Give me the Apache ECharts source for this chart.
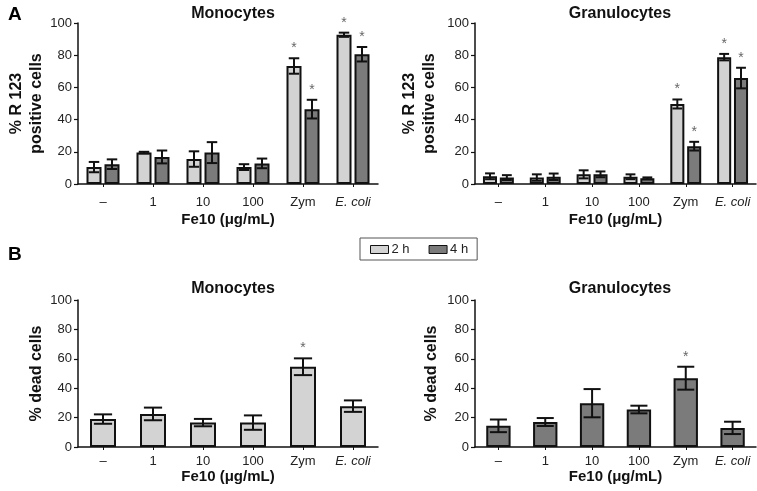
<!DOCTYPE html>
<html><head><meta charset="utf-8">
<script src="https://cdn.jsdelivr.net/npm/echarts@6/dist/echarts.min.js"></script>
<style>html,body{margin:0;padding:0;background:#fff}#c{width:757px;height:491px}</style>
</head><body><div id="c"></div>
<script>
const categories = ['–', '1', '10', '100', 'Zym', 'E. coli'];
const yTicks = [0, 20, 40, 60, 80, 100];

// Panel A: % R 123 positive cells
const mono2h = [10.5, 19.5, 15.5, 10.5, 73.3, 92.7];
const mono2hErr = [3.2, 0.5, 4.8, 1.8, 4.8, 1.3];
const mono2hStar = [0, 0, 0, 0, 1, 1];
const mono4h = [12.3, 16.8, 19.5, 12.8, 46.5, 80.6];
const mono4hErr = [3.0, 4.0, 6.5, 3.0, 5.8, 4.5];
const mono4hStar = [0, 0, 0, 0, 1, 1];

const gran2h = [4.8, 4.0, 6.0, 4.5, 49.7, 78.8];
const gran2hErr = [1.8, 2.0, 2.5, 1.5, 2.8, 2.0];
const gran2hStar = [0, 0, 0, 0, 1, 1];
const gran4h = [4.0, 4.5, 6.0, 3.5, 23.5, 65.8];
const gran4hErr = [1.5, 2.0, 1.8, 0.6, 2.7, 6.4];
const gran4hStar = [0, 0, 0, 0, 1, 1];

// Panel B: % dead cells
const monoDead = [19.0, 22.5, 16.6, 16.6, 54.6, 27.8];
const monoDeadErr = [3.2, 4.3, 2.5, 4.9, 5.7, 3.9];
const monoDeadStar = [0, 0, 0, 0, 1, 0];
const granDead = [14.4, 17.0, 29.8, 25.5, 46.8, 13.0];
const granDeadErr = [4.3, 2.7, 9.6, 2.6, 7.8, 4.2];
const granDeadStar = [0, 0, 0, 0, 1, 0];

const LIGHT = '#d3d3d3', DARK = '#7b7b7b';
const FONT = '"Liberation Sans", Arial, sans-serif';

const chart = echarts.init(document.getElementById('c'), null, {renderer: 'canvas'});

const grids = [
  {left: 78, top: 23, width: 300, height: 161},
  {left: 475, top: 23, width: 281, height: 161},
  {left: 78, top: 300, width: 300, height: 147},
  {left: 475, top: 300, width: 281, height: 147}
];

function xAxis(gi, labelMargin, nameGap) {
  return {
    type: 'category', gridIndex: gi, data: categories,
    axisLine: {lineStyle: {color: '#111', width: 1.5}},
    axisTick: {show: true, alignWithLabel: true, length: 3, lineStyle: {color: '#111'}},
    axisLabel: {
      color: '#222', fontSize: 13, fontFamily: FONT, margin: labelMargin, interval: 0,
      formatter: v => v === 'E. coli' ? '{i|E. coli}' : v,
      rich: {i: {fontStyle: 'italic', fontSize: 13, fontFamily: FONT, color: '#222'}}
    },
    name: 'Fe10 (μg/mL)', nameLocation: 'middle', nameGap: nameGap,
    nameTextStyle: {fontWeight: 'bold', fontSize: 15, fontFamily: FONT, color: '#111'}
  };
}
function yAxis(gi, name, nameGap) {
  return {
    type: 'value', gridIndex: gi, min: 0, max: 100, interval: 20,
    axisLine: {show: true, lineStyle: {color: '#111', width: 1.5}},
    axisTick: {show: true, length: 4, lineStyle: {color: '#111', width: 1.2}},
    splitLine: {show: false},
    axisLabel: {color: '#222', fontSize: 13, fontFamily: FONT, margin: 6},
    name: name, nameLocation: 'middle', nameGap: nameGap, nameRotate: 90,
    nameTextStyle: {fontWeight: 'bold', fontSize: 16, fontFamily: FONT, color: '#111', lineHeight: 20, align: 'center'}
  };
}

function barSeries(name, gi, vals, color, catGap, gap) {
  return {
    type: 'bar', name: name, xAxisIndex: gi, yAxisIndex: gi, data: vals,
    barCategoryGap: catGap, barGap: gap,
    itemStyle: {color: color, borderColor: '#111', borderWidth: 2},
    silent: true, animation: false
  };
}

// error bars + stars; idx = position in group, n = bars per group
function errSeries(gi, vals, errs, stars, idx, n, catGap, gap) {
  const data = vals.map((v, i) => [i, v, errs[i], stars[i]]);
  return {
    type: 'custom', xAxisIndex: gi, yAxisIndex: gi, data: data, silent: true, animation: false,
    encode: {x: 0, y: 1}, z: 10,
    renderItem: function (params, api) {
      const band = api.size([1, 0])[0];
      const w = band * (1 - catGap) / (n + (n - 1) * gap);
      const total = n * w + (n - 1) * gap * w;
      const off = -total / 2 + w / 2 + idx * (w + gap * w);
      const ci = api.value(0), v = api.value(1), e = api.value(2), s = api.value(3);
      const top = api.coord([ci, v + e]);
      const bot = api.coord([ci, v - e]);
      const x = top[0] + off;
      const cap = w * 0.35;
      const st = {stroke: '#111', lineWidth: 2};
      const children = [
        {type: 'line', shape: {x1: x, y1: top[1], x2: x, y2: bot[1]}, style: st},
        {type: 'line', shape: {x1: x - cap, y1: top[1], x2: x + cap, y2: top[1]}, style: st},
        {type: 'line', shape: {x1: x - cap, y1: bot[1], x2: x + cap, y2: bot[1]}, style: st}
      ];
      if (s) {
        children.push({type: 'text', style: {text: '*', x: x, y: top[1] - 3, align: 'center', verticalAlign: 'bottom',
          fontSize: 14, fontFamily: FONT, fill: '#666'}});
      }
      return {type: 'group', children: children};
    }
  };
}

const TOPCG = 0.34, TOPG = 0.2, BOTCG = 0.48;

const option = {
  backgroundColor: '#fff',
  animation: false,
  title: [
    {text: 'A', left: 3, top: 0, textStyle: {fontSize: 19, fontWeight: 'bold', fontFamily: FONT, color: '#000'}},
    {text: 'B', left: 3, top: 240, textStyle: {fontSize: 19, fontWeight: 'bold', fontFamily: FONT, color: '#000'}},
    {text: 'Monocytes', left: 228, top: 1, textAlign: 'center', textStyle: {fontSize: 16, fontWeight: 'bold', fontFamily: FONT, color: '#111'}},
    {text: 'Granulocytes', left: 615, top: 1, textAlign: 'center', textStyle: {fontSize: 16, fontWeight: 'bold', fontFamily: FONT, color: '#111'}},
    {text: 'Monocytes', left: 228, top: 276, textAlign: 'center', textStyle: {fontSize: 16, fontWeight: 'bold', fontFamily: FONT, color: '#111'}},
    {text: 'Granulocytes', left: 615, top: 276, textAlign: 'center', textStyle: {fontSize: 16, fontWeight: 'bold', fontFamily: FONT, color: '#111'}}
  ],
  legend: {
    data: ['2 h', '4 h'], left: 360, top: 238,
    borderColor: '#555', borderWidth: 1, padding: [5, 9, 4, 10], itemGap: 19,
    itemWidth: 18, itemHeight: 8, icon: 'rect',
    itemStyle: {borderColor: '#111', borderWidth: 1},
    textStyle: {fontSize: 13, fontFamily: FONT, color: '#222', padding: [0, 0, 0, -2]},
    selectedMode: false
  },
  grid: grids,
  xAxis: [xAxis(0, 12, 28), xAxis(1, 12, 28), xAxis(2, 8, 19), xAxis(3, 8, 19)],
  yAxis: [yAxis(0, '% R 123\npositive cells', 29), yAxis(1, '% R 123\npositive cells', 35),
          yAxis(2, '% dead cells', 31), yAxis(3, '% dead cells', 33)],
  series: [
    barSeries('2 h', 0, mono2h, LIGHT, '34%', '20%'),
    barSeries('4 h', 0, mono4h, DARK, '34%', '20%'),
    errSeries(0, mono2h, mono2hErr, mono2hStar, 0, 2, TOPCG, TOPG),
    errSeries(0, mono4h, mono4hErr, mono4hStar, 1, 2, TOPCG, TOPG),
    barSeries('2 h', 1, gran2h, LIGHT, '34%', '20%'),
    barSeries('4 h', 1, gran4h, DARK, '34%', '20%'),
    errSeries(1, gran2h, gran2hErr, gran2hStar, 0, 2, TOPCG, TOPG),
    errSeries(1, gran4h, gran4hErr, gran4hStar, 1, 2, TOPCG, TOPG),
    barSeries('dead mono', 2, monoDead, LIGHT, '48%', '0%'),
    errSeries(2, monoDead, monoDeadErr, monoDeadStar, 0, 1, BOTCG, 0),
    barSeries('dead gran', 3, granDead, DARK, '48%', '0%'),
    errSeries(3, granDead, granDeadErr, granDeadStar, 0, 1, BOTCG, 0)
  ]
};
chart.setOption(option);
</script>
</body></html>
